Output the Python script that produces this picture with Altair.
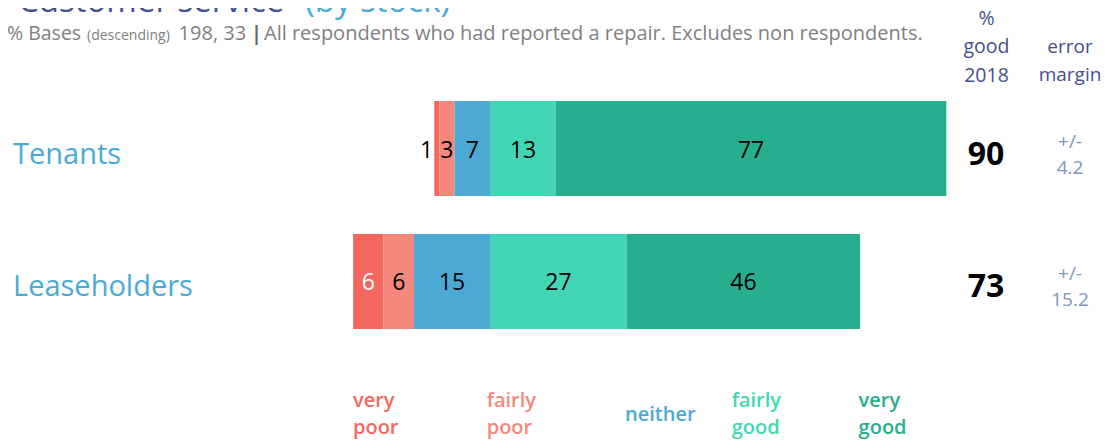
import altair as alt
import pandas as pd

# ---------------- data ----------------
groups = ["Tenants", "Leaseholders"]
categories = ["very poor", "fairly poor", "neither", "fairly good", "very good"]
very_poor = [1, 6]
fairly_poor = [3, 6]
neither = [7, 15]
fairly_good = [13, 27]
very_good = [77, 46]
pct_good_2018 = [90, 73]
error_margin = [4.2, 15.2]
bases = [198, 33]

title_main = "Customer service"
title_sub = "(by stock)"
subtitle_rest = "All respondents who had reported a repair. Excludes non respondents."

# ---------------- styles ----------------
FONT = "Open Sans"
seg_colors = ["#f2685e", "#f5887c", "#4ba9d4", "#43d6b6", "#26ae8f"]
NAVY = "#454f8e"
LIGHT_BLUE = "#4aaad6"
GREY = "#7f7f7f"
ERR_COL = "#8196b9"
# drawing coordinates equal page coordinates (negative padding cancels the 8px page margin)
W, H = 1103, 440
LEGEND_X = [353, 486.7, 625, 731.7, 858.6]
ERR_X = 1070

# ---------------- tables ----------------
rows = []
for i, g in enumerate(groups):
    vals = [very_poor[i], fairly_poor[i], neither[i], fairly_good[i], very_good[i]]
    start = -(vals[0] + vals[1] + vals[2])
    for c, v in zip(categories, vals):
        rows.append(dict(group=g, cat=c, value=v, x0=start, x1=start + v,
                         mid=start + v / 2,
                         lbl_color="white" if c == "very poor" else "black"))
        start += v
seg = pd.DataFrame(rows)
seg_in = seg[seg["value"] >= 2]
seg_out = seg[seg["value"] < 2]

rowdf = pd.DataFrame({"group": groups, "good": pct_good_2018, "err": error_margin})
one = pd.DataFrame({"_": [0]})

X = alt.Scale(domain=[-96.65, 120.91], nice=False, zero=False)
Y = alt.Y("group:N", sort=groups, axis=None,
          scale=alt.Scale(domain=groups, range=[101, 329], paddingInner=0.2857, paddingOuter=0))

bars = alt.Chart(seg).mark_bar().encode(
    x=alt.X("x0:Q", scale=X, axis=None),
    x2="x1:Q",
    y=Y,
    color=alt.Color("cat:N", scale=alt.Scale(domain=categories, range=seg_colors), legend=None),
)

lab_in = alt.Chart(seg_in).mark_text(font=FONT, fontSize=23, baseline="middle", dy=2).encode(
    x=alt.X("mid:Q", scale=X, axis=None),
    y=Y,
    text=alt.Text("value:Q", format="d"),
    color=alt.Color("lbl_color:N", scale=None),
)

lab_out = alt.Chart(seg_out).mark_text(font=FONT, fontSize=23, baseline="middle", dy=2,
                                       align="right", dx=-1, color="black").encode(
    x=alt.X("x0:Q", scale=X, axis=None),
    y=Y,
    text=alt.Text("value:Q", format="d"),
)

row_labels = alt.Chart(rowdf).mark_text(font=FONT, fontSize=29, color=LIGHT_BLUE,
                                        align="left", baseline="alphabetic", dy=15).encode(
    x=alt.value(13), y=Y, text="group:N")

good_txt = alt.Chart(rowdf).mark_text(font=FONT, fontSize=32, fontWeight="bold", color="black",
                                      align="center", baseline="alphabetic", dy=16).encode(
    x=alt.value(986), y=Y, text=alt.Text("good:Q", format="d"))

pm_txt = alt.Chart(rowdf).mark_text(font=FONT, fontSize=19, color=ERR_COL,
                                    align="center", baseline="alphabetic", dy=-1).encode(
    x=alt.value(ERR_X), y=Y, text=alt.value("+/-"))

err_txt = alt.Chart(rowdf).mark_text(font=FONT, fontSize=19, color=ERR_COL,
                                     align="center", baseline="alphabetic", dy=25).encode(
    x=alt.value(ERR_X), y=Y, text=alt.Text("err:Q", format=".1f"))


def note(text, x, y, size, color, weight="normal", align="left"):
    return alt.Chart(one).mark_text(font=FONT, fontSize=size, color=color, fontWeight=weight,
                                    align=align, baseline="alphabetic").encode(
        x=alt.value(x), y=alt.value(y), text=alt.value(text))


notes = [
    note(title_main, 18, 12, 33, NAVY),
    note(title_sub, 305, 12, 33, LIGHT_BLUE),
    note("% Bases", 7, 40, 19.5, GREY),
    note("(descending)", 87, 40, 14, GREY),
    note(", ".join(str(b) for b in bases), 178.6, 40, 20, GREY),
    note("|", 251, 40, 20, "#666666", weight="bold"),
    note(subtitle_rest, 264, 40, 20, GREY),
    note("%", 986.5, 25.3, 19.5, NAVY, align="center"),
    note("good", 986.5, 53.3, 19.5, NAVY, align="center"),
    note("2018", 986.5, 81.7, 19.5, NAVY, align="center"),
    note("error", ERR_X, 53.3, 19, NAVY, align="center"),
    note("margin", ERR_X, 81.3, 19, NAVY, align="center"),
]

for cat, col, lx in zip(categories, seg_colors, LEGEND_X):
    parts = cat.split(" ")
    if len(parts) == 2:
        notes.append(note(parts[0], lx, 407, 20, col, weight=600))
        notes.append(note(parts[1], lx, 434, 20, col, weight=600))
    else:
        notes.append(note(parts[0], lx, 421, 20, col, weight=600))

chart = alt.layer(bars, lab_in, lab_out, row_labels, good_txt, pm_txt, err_txt, *notes).properties(
    width=W, height=H,
    padding={"left": -8, "top": -8, "right": 0, "bottom": 0},
    autosize=alt.AutoSizeParams(type="none"),
    background="white",
).configure_view(stroke=None)

chart.save("out.html", embed_options={"renderer": "svg", "actions": False})
